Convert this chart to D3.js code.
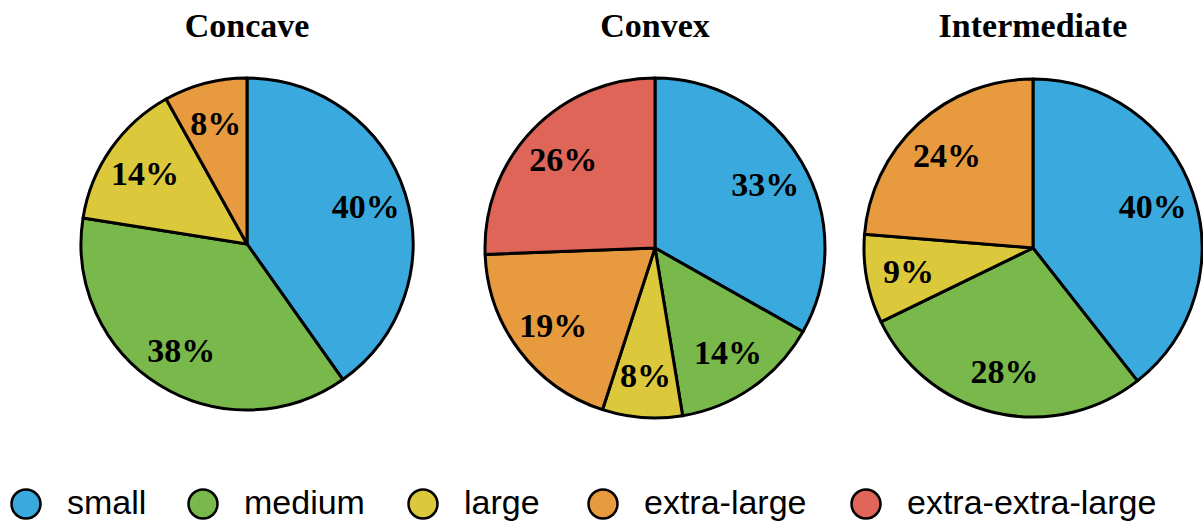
<!DOCTYPE html>
<html>
<head>
<meta charset="utf-8">
<script src="https://cdn.jsdelivr.net/npm/d3@7"></script>
<style>
  body { margin: 0; background: #fff; }
  .title { font-family: "Liberation Serif", "Times New Roman", serif; font-weight: bold; font-size: 34px; }
  .pct { font-family: "Liberation Serif", "Times New Roman", serif; font-weight: bold; font-size: 34px; }
  .legend text { font-family: "Liberation Sans", Helvetica, Arial, sans-serif; font-size: 34px; }
</style>
</head>
<body>
<svg width="1203" height="522"></svg>
<script>
// categories and colours
var categories = ["small", "medium", "large", "extra-large", "extra-extra-large"];
var colors = ["#3aaade", "#79b94b", "#dcc83b", "#e89a3f", "#de6558"];

// chart titles
var titles = ["Concave", "Convex", "Intermediate"];

// slice sizes (percent), and printed labels
var concaveValues = [40.2, 37.3, 14.4, 8.1, 0];
var convexValues = [33.2, 14.2, 7.6, 19.4, 25.6];
var intermediateValues = [39.4, 28.4, 8.5, 23.7, 0];
var concaveLabels = ["40%", "38%", "14%", "8%", ""];
var convexLabels = ["33%", "14%", "8%", "19%", "26%"];
var intermediateLabels = ["40%", "28%", "9%", "24%", ""];

var svg = d3.select("svg");

var charts = [
  { title: titles[0], values: concaveValues, labels: concaveLabels, cx: 247, cy: 244, r: 166 },
  { title: titles[1], values: convexValues, labels: convexLabels, cx: 655, cy: 248, r: 170 },
  { title: titles[2], values: intermediateValues, labels: intermediateLabels, cx: 1033, cy: 248, r: 169 }
];

var pie = d3.pie().sort(null).value(function(d) { return d; });

charts.forEach(function(c) {
  var g = svg.append("g").attr("transform", "translate(" + c.cx + "," + c.cy + ")");
  var arc = d3.arc().innerRadius(0).outerRadius(c.r);
  var labelArc = d3.arc().innerRadius(c.r * 0.75).outerRadius(c.r * 0.75);

  var arcs = pie(c.values).map(function(a, i) { a.index = i; return a; })
    .filter(function(a) { return a.data > 0; });

  g.selectAll("path.slice")
    .data(arcs)
    .enter().append("path")
    .attr("class", "slice")
    .attr("d", arc)
    .attr("fill", function(d) { return colors[d.index]; })
    .attr("stroke", "#000")
    .attr("stroke-width", 3)
    .attr("stroke-linejoin", "round");

  g.selectAll("text.pct")
    .data(arcs)
    .enter().append("text")
    .attr("class", "pct")
    .attr("transform", function(d) { return "translate(" + labelArc.centroid(d) + ")"; })
    .attr("text-anchor", "middle")
    .attr("dy", "0.35em")
    .text(function(d) { return c.labels[d.index]; });

  svg.append("text")
    .attr("class", "title")
    .attr("x", c.cx)
    .attr("y", 37)
    .attr("text-anchor", "middle")
    .text(c.title);
});

// legend
var legendX = [26, 203, 423, 603, 866];
var legend = svg.append("g").attr("class", "legend");
var item = legend.selectAll("g")
  .data(categories)
  .enter().append("g")
  .attr("transform", function(d, i) { return "translate(" + legendX[i] + ",504)"; });

item.append("ellipse")
  .attr("cx", 0)
  .attr("cy", 0)
  .attr("rx", 14.5)
  .attr("ry", 14.5)
  .attr("fill", function(d, i) { return colors[i]; })
  .attr("stroke", "#000")
  .attr("stroke-width", 2.5);

item.append("text")
  .attr("x", 41)
  .attr("y", 10)
  .text(function(d) { return d; });
</script>
</body>
</html>
